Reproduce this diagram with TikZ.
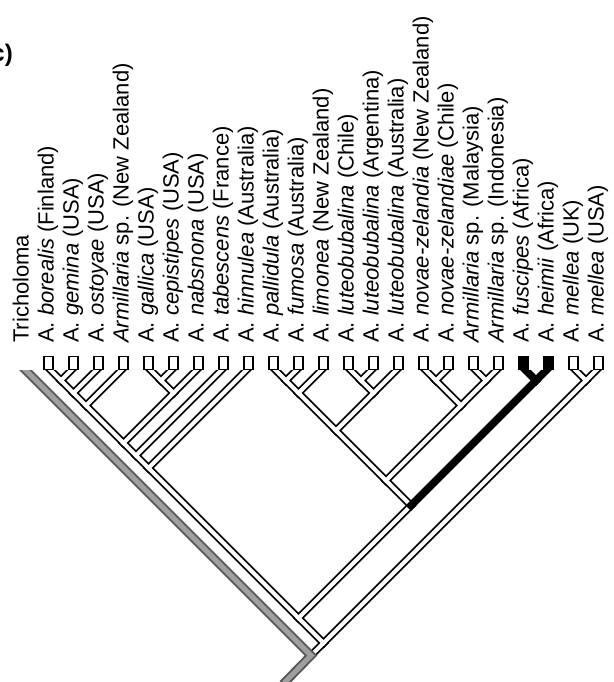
\documentclass[tikz,border=0pt]{standalone}
\usepackage{fontspec}
\setmainfont{Liberation Sans}

% coordinate of the node joining tips #2..#3 in a slanted tree
\newcommand{\cladept}[3]{\coordinate (#1) at ({23.5+12.5*(#2+#3)}, {368+12.5*(#3-#2)});}

\tikzset{
  taxon/.style={rotate=90, anchor=base west, inner sep=0pt, font=\fontsize{22}{26}\selectfont},
  tipbox/.style={draw, line width=1.6pt, minimum width=9pt, minimum height=13pt, inner sep=0pt, fill=white},
  barout/.style={line width=7.5pt},
  barin/.style={line width=4pt, white},
}

\begin{document}
\begin{tikzpicture}[x=1pt, y=-1pt, line cap=rect]
  \useasboundingbox (0,0) rectangle (613,682);
  \node[anchor=base east, inner sep=0pt, font=\fontsize{24}{28}\selectfont\bfseries] (panel) at (13,62) {c)};

  % taxa
  \foreach \i/\name in {0/Tricholoma, 1/{A. \textit{borealis} (Finland)}, 2/{A. \textit{gemina} (USA)},
      3/{A. \textit{ostoyae} (USA)}, 4/{\textit{Armillaria} sp. (New Zealand)}, 5/{A. \textit{gallica} (USA)},
      6/{A. \textit{cepistipes} (USA)}, 7/{A. \textit{nabsnona} (USA)}, 8/{A. \textit{tabescens} (France)},
      9/{A. \textit{hinnulea} (Australia)}, 10/{A. \textit{pallidula} (Australia)},
      11/{A. \textit{fumosa} (Australia)}, 12/{A. \textit{limonea} (New Zealand)},
      13/{A. \textit{luteobubalina} (Chile)}, 14/{A. \textit{luteobubalina} (Argentina)},
      15/{A. \textit{luteobubalina} (Australia)}, 16/{A. \textit{novae-zelandia} (New Zealand)},
      17/{A. \textit{novae-zelandiae} (Chile)}, 18/{\textit{Armillaria} sp. (Malaysia)},
      19/{\textit{Armillaria} sp. (Indonesia)}, 20/{A. \textit{fuscipes} (Africa)},
      21/{A. \textit{heimii} (Africa)}, 22/{A. \textit{mellea} (UK)}, 23/{A. \textit{mellea} (USA)}} {
    \coordinate (t\i) at ({23.5+25*\i}, 368);
    \node[taxon] (l\i) at ({28.5+25*\i}, 343) {\name};
  }
  \foreach \i in {1,...,19} \node[tipbox] (b\i) at ({23.5+25*\i}, 363) {};
  \foreach \i in {22,23} \node[tipbox] (b\i) at ({23.5+25*\i}, 363) {};
  \foreach \i in {20,21} \node[tipbox, fill=black] (b\i) at ({23.5+25*\i}, 363) {};

  % internal nodes
  \cladept{n1-2}{1}{2}   \cladept{n1-3}{1}{3}   \cladept{n1-4}{1}{4}
  \cladept{n5-6}{5}{6}   \cladept{n5-7}{5}{7}   \cladept{n1-7}{1}{7}
  \cladept{n1-8}{1}{8}   \cladept{n1-9}{1}{9}
  \cladept{n10-11}{10}{11} \cladept{n10-12}{10}{12}
  \cladept{n13-14}{13}{14} \cladept{n13-15}{13}{15} \cladept{n10-15}{10}{15}
  \cladept{n16-17}{16}{17} \cladept{n18-19}{18}{19} \cladept{n16-19}{16}{19}
  \cladept{n10-19}{10}{19} \cladept{n20-21}{20}{21} \cladept{n10-21}{10}{21}
  \cladept{n1-21}{1}{21} \cladept{n22-23}{22}{23} \cladept{n1-23}{1}{23}
  \cladept{root}{0}{23}
  \coordinate (stem) at (286,681);

  \def\hollow{n1-2/t1, n1-2/t2, n1-3/n1-2, n1-3/t3, n1-4/n1-3, n1-4/t4,
    n5-6/t5, n5-6/t6, n5-7/n5-6, n5-7/t7, n1-7/n1-4, n1-7/n5-7,
    n1-8/n1-7, n1-8/t8, n1-9/n1-8, n1-9/t9,
    n10-11/t10, n10-11/t11, n10-12/n10-11, n10-12/t12,
    n13-14/t13, n13-14/t14, n13-15/n13-14, n13-15/t15,
    n10-15/n10-12, n10-15/n13-15,
    n16-17/t16, n16-17/t17, n18-19/t18, n18-19/t19,
    n16-19/n16-17, n16-19/n18-19, n10-19/n10-15, n10-19/n16-19,
    n10-21/n10-19, n1-21/n1-9, n1-21/n10-21,
    n22-23/t22, n22-23/t23, n1-23/n1-21, n1-23/n22-23, root/n1-23}

  % branches
  \begin{scope}
    \clip (0,370) rectangle (613,682);
    \foreach \a/\b in \hollow \draw[barout] (\a) -- (\b);
    \foreach \a/\b in \hollow \draw[barin] (\a) -- (\b);
    \foreach \a/\b in {n20-21/t20, n20-21/t21, n10-21/n20-21} \draw[barout] (\a) -- (\b);
    % outgroup and root
    \draw[line width=9pt, gray!70!black] (t0) -- (root) -- (stem);
    \draw[line width=5pt, gray!75] (t0) -- (root) -- (stem);
  \end{scope}
\end{tikzpicture}
\end{document}
